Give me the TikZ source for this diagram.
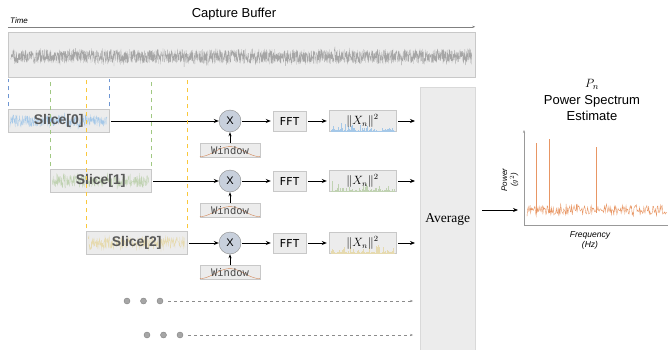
\documentclass[tikz,border=0pt]{standalone}
\usepackage{fontspec}
\setmainfont{Liberation Serif}
\setsansfont{Liberation Sans}
\setmonofont{DejaVu Sans Mono}
\usetikzlibrary{arrows.meta,calc,positioning}
\definecolor{bufgray}{RGB}{236,236,236}
\definecolor{edgegray}{RGB}{200,200,200}
\definecolor{sblue}{RGB}{165,200,232}
\definecolor{sgreen}{RGB}{192,210,178}
\definecolor{syellow}{RGB}{230,218,175}
\definecolor{dblue}{RGB}{110,150,210}
\definecolor{dgreen}{RGB}{160,200,130}
\definecolor{dyellow}{RGB}{250,200,60}
\definecolor{psd}{RGB}{232,150,100}
\definecolor{mulfill}{RGB}{200,208,220}
\tikzset{pin/.style={-{Stealth[length=5pt,width=4pt]}, line width=0.8pt},
  gbox/.style={draw=edgegray, fill=bufgray, inner sep=0pt},
  slc/.style={gbox, minimum width=101pt, minimum height=23pt},
  slctxt/.style={text=black!65, font=\fontsize{14}{16}\selectfont\sffamily\bfseries},
  mul/.style={circle, draw=black!45, fill=mulfill, minimum size=22pt, inner sep=0pt,
    font=\fontsize{11}{12}\selectfont\sffamily},
  fftbox/.style={gbox, minimum width=33pt, minimum height=20pt, font=\fontsize{11}{12}\selectfont\ttfamily},
  mag/.style={gbox, minimum width=67pt, minimum height=21pt},
  magtxt/.style={font=\fontsize{12}{14}\selectfont},
  win/.style={gbox, minimum width=60pt, minimum height=14pt},
  wintxt/.style={inner sep=0pt, font=\fontsize{10.5}{12}\selectfont\ttfamily, text=black!70},
  dot/.style={circle, draw=black!50, fill=black!35, minimum size=6pt, inner sep=0pt},
  dsh/.style={dashed, black!45, -{Stealth[length=3pt]}}}

\begin{document}
\begin{tikzpicture}[x=1pt, y=-1pt]
  \useasboundingbox (0,0) rectangle (668,350);
  \pgfmathsetseed{7}
  % capture buffer
  \node[font=\fontsize{13}{15}\selectfont\sffamily] (cap) at (234,14) {Capture Buffer};
  \node[gbox, minimum width=467pt, minimum height=45pt] (buf) at (241.5,54.5) {};
  \draw[black!35, line width=0.25pt, shift={(buf.west)}]
    plot[domain=3:464, samples=2400] (\x,{2+7*rand+5*rand*rnd*rnd});
  \draw[black!50, -{Stealth[length=3pt]}] ([yshift=5pt]buf.north west) -- ([yshift=5pt]buf.north east);
  \node[font=\fontsize{8}{9}\selectfont\sffamily\itshape, anchor=west, inner sep=1pt] (tim) at (9,21) {Time};

  \node[gbox, draw=black!15, minimum width=55pt, minimum height=264pt, anchor=north west,
    font=\fontsize{13.5}{15}\selectfont] (avg) at (420,87) {Average};

  \foreach \i/\sx/\y/\sc/\dc in {0/8/121/sblue/dblue, 1/50/181/sgreen/dgreen, 2/86/243/syellow/dyellow}{
    \node[slc, anchor=west] (s\i) at (\sx,\y) {};
    \draw[\sc, line width=0.25pt, shift={(s\i.west)}] plot[domain=2:99, samples=320] (\x,{6*rand+3*rand*rnd});
    \node[slctxt] (ts\i) at (s\i) {Slice[\i]};
    \draw[\dc, dash pattern=on 4pt off 4pt, shorten >=2pt, shorten <=3pt]
      (s\i.north west) -- (s\i.north west |- buf.south);
    \draw[\dc, dash pattern=on 4pt off 4pt, shorten >=2pt, shorten <=3pt]
      (s\i.north east) -- (s\i.north east |- buf.south);
    \node[mul] (x\i) at (230,\y) {X};
    \node[win, below=11pt of x\i] (w\i) {};
    \draw[psd!90!black, line width=0.4pt, shift={(w\i.south west)}]
      plot[domain=0:60, samples=40] (\x,{-1-10*pow(sin(3*\x),2)});
    \node[wintxt] (tw\i) at (w\i) {Window};
    \node[fftbox] (f\i) at (289.5,\y) {FFT};
    \node[mag] (m\i) at (362.5,\y) {};
    \draw[\sc, line width=0.4pt, shift={(m\i.south west)}]
      plot[ycomb, domain=2:65, samples=70] (\x,{-(1+10*rnd*rnd*rnd)});
    \node[magtxt] (tm\i) at (m\i) {$\|X_n\|^2$};
    \draw[pin, shorten <=2pt] (s\i) -- (x\i);
    \draw[pin, -{Stealth[length=4pt,width=3pt]}] (w\i) -- (x\i);
    \draw[pin, shorten <=1pt, shorten >=2pt] (x\i) -- (f\i);
    \draw[pin, shorten <=2pt, shorten >=2pt] (f\i) -- (m\i);
    \draw[pin, shorten <=2pt, shorten >=5pt] (m\i) -- (m\i -| avg.west);
  }

  % more slices
  \foreach \j/\dx/\dy in {1/127/301, 2/147/335}{
    \foreach \k in {1,2,3}
      \node[dot] (dt\j\k) at ({\dx+16.5*(\k-1)},\dy) {};
    \draw[dsh, shorten <=5pt, shorten >=7pt] (dt\j3) -- (dt\j3 -| avg.west);
  }

  % power spectrum
  \node[align=center, font=\fontsize{13}{16.5}\selectfont\sffamily] (pse) at (592,100)
    {$P_n$\\Power Spectrum\\Estimate};
  \coordinate (org) at (524,225);
  \coordinate (spec) at (518,210);
  \draw[pin, shorten <=7pt] (avg.east |- spec) -- (spec);
  \draw[black!40, -{Stealth[length=3pt]}] (org) -- ++(0,-95);
  \draw[black!40] (org) -- (668,225);
  \draw[psd, line width=0.4pt] plot[domain=527:667, samples=230] (\x,{210+5*rand+3*rand*rnd});
  \draw[psd, line width=0.7pt] (536,213) -- (536,143) (549,213) -- (549,139) (596,213) -- (596,147);
  \node[rotate=90, align=center, inner sep=0pt, font=\fontsize{8}{9.5}\selectfont\sffamily\itshape] (ylab) at (510,180)
    {Power\\($g^2$)};
  \node[align=center, font=\fontsize{8.5}{10}\selectfont\sffamily\itshape] (xlab) at (590,240) {Frequency\\(Hz)};
\end{tikzpicture}
\end{document}
